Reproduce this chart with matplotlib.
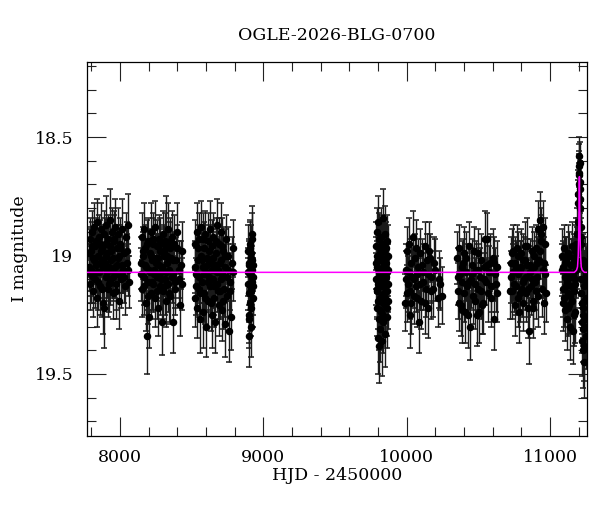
import numpy as np
import matplotlib
matplotlib.use('Agg')
import matplotlib.pyplot as plt
from matplotlib.ticker import MultipleLocator, FuncFormatter

# light curve, one block per observing season
# (HJD - 2450000, I mag, error)
s1_t = [7783, 7788, 7792, 7797, 7801, 7806, 7810, 7815, 7819, 7824, 7828, 7833, 7837, 7842, 7846,
        7851, 7855, 7860, 7864, 7869, 7873, 7878, 7882, 7887, 7891, 7896, 7900, 7905, 7909, 7914,
        7918, 7923, 7927, 7932, 7936, 7941, 7945, 7950, 7954, 7959, 7963, 7968, 7972, 7977, 7981,
        7986, 7990, 7995, 8000, 8006, 8012, 8019, 8026, 8034, 8042, 8050, 8058, 8062,
        7785, 7795, 7804, 7813, 7822, 7831, 7840, 7848, 7858, 7866, 7875, 7885, 7894, 7902, 7912,
        7920, 7930, 7939, 7948, 7957, 7966, 7975, 7984, 7993, 8003, 8016, 8030, 8046, 8055]
s1_m = [19.05, 18.93, 19.12, 18.98, 19.08, 18.90, 19.15, 19.01, 18.88, 19.10, 18.96, 19.04, 18.86, 19.18, 19.00,
        18.92, 19.07, 18.95, 19.13, 18.89, 19.02, 18.97, 19.20, 18.91, 19.22, 19.03, 18.87, 19.09, 18.99, 19.14,
        18.93, 19.05, 18.85, 19.11, 18.98, 19.06, 18.90, 19.16, 19.01, 18.94, 19.08, 18.88, 19.12, 18.97, 19.04,
        18.91, 19.19, 19.00, 18.95, 19.10, 18.89, 19.06, 18.99, 19.13, 18.92, 19.03, 18.87, 19.11,
        18.99, 19.06, 18.96, 19.09, 19.02, 18.94, 19.07, 19.11, 19.03, 18.98, 19.14, 19.05, 18.95, 19.00, 19.07,
        19.12, 18.96, 19.02, 19.09, 18.93, 19.05, 19.15, 19.01, 19.08, 18.97, 19.04, 19.09, 18.98, 19.06]
s1_e = [0.10, 0.09, 0.11, 0.10, 0.12, 0.09, 0.11, 0.10, 0.10, 0.12, 0.09, 0.11, 0.10, 0.12, 0.10,
        0.09, 0.11, 0.10, 0.12, 0.11, 0.10, 0.09, 0.13, 0.10, 0.17, 0.11, 0.12, 0.10, 0.11, 0.12,
        0.10, 0.11, 0.13, 0.10, 0.09, 0.12, 0.10, 0.11, 0.10, 0.11, 0.10, 0.12, 0.11, 0.10, 0.09,
        0.11, 0.12, 0.10, 0.11, 0.12, 0.13, 0.10, 0.11, 0.12, 0.10, 0.12, 0.13, 0.11,
        0.10, 0.11, 0.10, 0.11, 0.10, 0.10, 0.11, 0.12, 0.10, 0.11, 0.12, 0.10, 0.11, 0.10, 0.11,
        0.12, 0.10, 0.11, 0.10, 0.12, 0.11, 0.12, 0.10, 0.11, 0.10, 0.12, 0.11, 0.12, 0.11]

s2_t = [8148, 8152, 8157, 8161, 8166, 8170, 8175, 8179, 8183, 8188, 8192, 8197, 8201, 8206, 8210,
        8215, 8219, 8224, 8228, 8233, 8237, 8242, 8246, 8251, 8255, 8260, 8264, 8269, 8273, 8278,
        8282, 8287, 8293, 8297, 8302, 8306, 8311, 8315, 8320, 8324, 8329, 8333, 8338, 8342, 8347,
        8352, 8357, 8362, 8368, 8373, 8379, 8386, 8393, 8401, 8410, 8418, 8426, 8433,
        8150, 8159, 8168, 8177, 8186, 8195, 8204, 8213, 8222, 8231, 8240, 8249, 8258, 8267, 8276,
        8285, 8295, 8304, 8313, 8322, 8331, 8340, 8350, 8360, 8371, 8383, 8397, 8414, 8430]
s2_m = [19.03, 18.92, 19.14, 19.00, 18.89, 19.09, 18.97, 19.20, 19.05, 19.34, 18.94, 19.11, 19.26, 18.99, 19.07,
        18.90, 19.16, 19.02, 18.95, 19.12, 19.06, 18.88, 19.18, 19.01, 18.96, 19.09, 19.22, 18.93, 19.04, 19.13,
        18.98, 19.07, 19.28, 18.91, 19.15, 19.00, 19.10, 18.94, 18.96, 19.19, 19.03, 18.89, 19.12, 19.06, 18.97,
        19.17, 19.01, 18.92, 19.28, 19.08, 18.95, 19.14, 19.02, 18.90, 19.10, 19.21, 19.04, 18.98,
        19.08, 18.98, 19.13, 19.04, 18.95, 19.17, 19.06, 19.00, 19.11, 18.93, 19.08, 19.03, 19.15, 19.01, 18.95,
        19.10, 19.05, 18.98, 19.13, 19.07, 19.00, 19.16, 18.94, 19.09, 19.02, 19.11, 18.97, 19.06, 19.12]
s2_e = [0.11, 0.10, 0.12, 0.10, 0.11, 0.12, 0.10, 0.12, 0.11, 0.16, 0.10, 0.12, 0.13, 0.10, 0.11,
        0.12, 0.11, 0.10, 0.11, 0.12, 0.10, 0.11, 0.12, 0.10, 0.11, 0.10, 0.12, 0.10, 0.11, 0.12,
        0.10, 0.11, 0.14, 0.10, 0.12, 0.11, 0.10, 0.12, 0.21, 0.11, 0.10, 0.11, 0.12, 0.10, 0.11,
        0.12, 0.10, 0.11, 0.13, 0.10, 0.12, 0.11, 0.10, 0.12, 0.11, 0.13, 0.10, 0.12,
        0.11, 0.10, 0.12, 0.11, 0.10, 0.12, 0.11, 0.10, 0.12, 0.11, 0.10, 0.11, 0.12, 0.10, 0.11,
        0.12, 0.10, 0.11, 0.12, 0.10, 0.11, 0.12, 0.10, 0.11, 0.12, 0.11, 0.10, 0.12, 0.11]

s3_t = [8522, 8526, 8531, 8535, 8540, 8544, 8549, 8553, 8558, 8562, 8567, 8571, 8576, 8580, 8585,
        8589, 8594, 8598, 8603, 8607, 8612, 8616, 8621, 8625, 8630, 8634, 8639, 8643, 8648, 8652,
        8657, 8661, 8666, 8670, 8675, 8679, 8684, 8688, 8693, 8697, 8702, 8706, 8711, 8715, 8720,
        8725, 8730, 8736, 8742, 8748, 8754, 8760, 8767, 8774, 8781, 8789,
        8524, 8533, 8542, 8551, 8560, 8569, 8578, 8587, 8596, 8605, 8614, 8623, 8632, 8641, 8650,
        8659, 8668, 8677, 8686, 8695, 8704, 8713, 8722, 8733, 8745, 8757, 8770, 8785]
s3_m = [19.18, 18.95, 19.08, 18.90, 19.22, 19.02, 18.93, 19.14, 19.27, 19.00, 18.88, 19.11, 19.05, 19.24, 18.97,
        19.16, 18.91, 19.07, 19.30, 19.01, 18.94, 19.19, 19.09, 18.89, 19.13, 19.03, 19.25, 18.96, 19.10, 18.92,
        19.18, 19.04, 19.28, 18.99, 19.12, 18.87, 19.06, 19.21, 18.95, 19.15, 19.02, 18.90, 19.23, 19.08, 18.98,
        19.14, 19.29, 19.00, 18.93, 19.17, 19.06, 19.32, 19.11, 19.26, 19.03, 18.97,
        19.05, 19.13, 18.97, 19.09, 19.16, 19.02, 18.93, 19.08, 19.18, 19.04, 19.11, 18.98, 19.20, 19.06, 19.01,
        19.13, 18.94, 19.07, 19.15, 19.03, 19.10, 18.96, 19.19, 19.05, 19.09, 19.00, 19.15, 19.07]
s3_e = [0.12, 0.10, 0.11, 0.12, 0.13, 0.10, 0.11, 0.12, 0.14, 0.10, 0.11, 0.12, 0.10, 0.15, 0.11,
        0.12, 0.10, 0.11, 0.13, 0.10, 0.12, 0.11, 0.10, 0.12, 0.11, 0.10, 0.14, 0.11, 0.12, 0.10,
        0.12, 0.11, 0.13, 0.10, 0.12, 0.11, 0.10, 0.13, 0.11, 0.12, 0.10, 0.12, 0.13, 0.11, 0.10,
        0.12, 0.14, 0.11, 0.10, 0.12, 0.11, 0.13, 0.12, 0.14, 0.11, 0.12,
        0.11, 0.12, 0.10, 0.11, 0.12, 0.10, 0.11, 0.12, 0.11, 0.10, 0.12, 0.11, 0.12, 0.10, 0.11,
        0.12, 0.10, 0.11, 0.12, 0.10, 0.11, 0.12, 0.12, 0.11, 0.10, 0.12, 0.11, 0.12]

s4_t = [8893, 8895, 8897, 8899, 8901, 8902, 8904, 8906, 8907, 8909, 8911, 8912, 8914, 8916, 8917,
        8919, 8921, 8922, 8924, 8925, 8927, 8928,
        8894, 8898, 8903, 8908, 8913, 8918, 8923, 8926]
s4_m = [19.07, 18.98, 19.16, 19.25, 19.34, 19.03, 19.12, 18.95, 19.20, 19.08, 19.30, 19.01, 19.14, 18.99, 19.22,
        19.06, 18.93, 19.11, 18.91, 19.04, 19.18, 19.09,
        19.12, 19.04, 19.27, 18.97, 19.15, 19.09, 19.02, 19.13]
s4_e = [0.10, 0.11, 0.12, 0.12, 0.13, 0.10, 0.11, 0.10, 0.12, 0.11, 0.13, 0.10, 0.11, 0.12, 0.12,
        0.10, 0.11, 0.10, 0.12, 0.11, 0.12, 0.10,
        0.11, 0.10, 0.12, 0.11, 0.12, 0.10, 0.11, 0.12]

s5_t = [9786, 9788, 9790, 9792, 9794, 9796, 9798, 9800, 9802, 9804, 9806, 9808, 9810, 9812, 9814,
        9816, 9818, 9820, 9822, 9824, 9826, 9828, 9830, 9832, 9834, 9836, 9838, 9840, 9842, 9844,
        9846, 9848, 9850, 9852, 9854, 9856, 9858, 9860, 9862, 9864, 9866, 9868, 9870,
        9787, 9791, 9795, 9799, 9803, 9807, 9811, 9815, 9819, 9823, 9827, 9831, 9835, 9839, 9843,
        9847, 9851, 9855, 9859, 9863, 9867, 9869]
s5_m = [19.10, 18.96, 19.22, 19.05, 18.90, 19.14, 18.86, 19.35, 19.02, 19.27, 18.93, 19.38, 19.09, 19.18, 18.99,
        19.31, 19.06, 18.92, 19.24, 19.13, 19.36, 19.01, 18.95, 19.20, 18.84, 19.11, 19.28, 19.04, 18.98, 19.16,
        19.08, 19.33, 18.91, 19.21, 19.03, 19.12, 18.97, 19.26, 19.07, 19.15, 18.94, 19.19, 19.00,
        19.03, 19.15, 19.00, 19.12, 19.19, 19.07, 18.97, 19.23, 19.10, 19.02, 19.17, 19.08, 19.25, 18.95, 19.13,
        19.04, 19.18, 19.09, 19.01, 19.22, 19.06, 19.12]
s5_e = [0.11, 0.10, 0.12, 0.11, 0.10, 0.12, 0.11, 0.15, 0.10, 0.13, 0.11, 0.16, 0.12, 0.11, 0.10,
        0.14, 0.11, 0.12, 0.12, 0.10, 0.15, 0.11, 0.12, 0.11, 0.12, 0.10, 0.13, 0.11, 0.10, 0.12,
        0.11, 0.14, 0.12, 0.11, 0.10, 0.12, 0.11, 0.13, 0.10, 0.12, 0.11, 0.12, 0.13,
        0.11, 0.12, 0.10, 0.11, 0.12, 0.11, 0.10, 0.12, 0.11, 0.10, 0.12, 0.11, 0.13, 0.10, 0.12,
        0.11, 0.12, 0.10, 0.11, 0.12, 0.11, 0.12]

s6_t = [9990, 9996, 10002, 10008, 10014, 10020, 10024, 10030, 10036, 10043, 10048, 10055, 10062, 10068, 10075,
        10081, 10088, 10094, 10101, 10108, 10117, 10125, 10134, 10142, 10150, 10157, 10163, 10172, 10186, 10200,
        10221, 10236, 10246,
        9993, 10005, 10017, 10033, 10052, 10071, 10091, 10112, 10130, 10146, 10168, 10193, 10228]
s6_m = [19.20, 19.06, 18.98, 19.12, 18.95, 19.25, 19.15, 19.03, 19.09, 18.92, 19.17, 19.01, 19.13, 18.97, 19.08,
        19.05, 19.28, 18.99, 19.19, 19.04, 19.11, 18.96, 19.14, 19.02, 19.22, 18.98, 19.01, 19.09, 19.14, 19.06,
        19.18, 19.12, 19.17,
        19.10, 19.16, 19.07, 19.20, 19.10, 19.18, 19.12, 19.07, 19.20, 19.08, 19.15, 19.03, 19.10]
s6_e = [0.12, 0.11, 0.10, 0.12, 0.11, 0.14, 0.12, 0.10, 0.12, 0.11, 0.12, 0.10, 0.11, 0.12, 0.11,
        0.12, 0.13, 0.10, 0.12, 0.11, 0.12, 0.10, 0.12, 0.11, 0.13, 0.12, 0.10, 0.11, 0.12, 0.13,
        0.12, 0.11, 0.12,
        0.12, 0.12, 0.11, 0.13, 0.12, 0.12, 0.11, 0.12, 0.13, 0.11, 0.12, 0.11, 0.12]

s7_t = [10352, 10358, 10365, 10371, 10378, 10383, 10389, 10395, 10402, 10407, 10413, 10420, 10428, 10435, 10442,
        10448, 10455, 10462, 10469, 10476, 10482, 10489, 10495, 10500, 10507, 10514, 10520, 10529, 10535, 10542,
        10547, 10553, 10558, 10566, 10574, 10582, 10590, 10600, 10606, 10615, 10624, 10630,
        10355, 10368, 10386, 10399, 10417, 10438, 10458, 10479, 10498, 10517, 10538, 10562, 10586, 10611, 10627]
s7_m = [19.01, 19.15, 18.97, 19.08, 19.21, 19.11, 19.23, 19.03, 18.99, 19.24, 19.07, 19.13, 19.25, 18.96, 19.30,
        19.10, 19.04, 19.17, 18.98, 19.12, 19.06, 19.25, 19.14, 18.99, 19.24, 19.09, 19.02, 19.21, 19.20, 19.05,
        18.93, 19.11, 18.93, 19.16, 19.07, 19.03, 19.13, 19.01, 19.27, 19.08, 19.12, 19.05,
        19.09, 19.20, 19.05, 19.16, 19.01, 19.11, 19.08, 19.19, 19.06, 19.15, 19.10, 19.04, 19.18, 19.03, 19.16]
s7_e = [0.11, 0.12, 0.10, 0.11, 0.13, 0.12, 0.14, 0.10, 0.11, 0.13, 0.12, 0.11, 0.14, 0.10, 0.14,
        0.12, 0.11, 0.12, 0.10, 0.11, 0.12, 0.13, 0.11, 0.10, 0.13, 0.12, 0.11, 0.12, 0.13, 0.11,
        0.12, 0.10, 0.11, 0.12, 0.11, 0.12, 0.11, 0.12, 0.13, 0.11, 0.12, 0.11,
        0.12, 0.12, 0.11, 0.12, 0.11, 0.12, 0.11, 0.12, 0.11, 0.12, 0.11, 0.12, 0.12, 0.11, 0.12]

s8_t = [10722, 10728, 10733, 10738, 10744, 10750, 10756, 10762, 10768, 10774, 10780, 10786, 10791, 10797, 10803,
        10809, 10815, 10820, 10826, 10832, 10838, 10843, 10849, 10856, 10862, 10868, 10874, 10880, 10884, 10890,
        10896, 10902, 10908, 10914, 10919, 10925, 10931, 10936, 10942, 10949, 10955, 10961, 10967, 10972,
        10725, 10741, 10753, 10765, 10777, 10789, 10800, 10812, 10824, 10835, 10846, 10859, 10871, 10887, 10899,
        10911, 10928, 10939, 10952, 10964]
s8_m = [19.15, 19.03, 19.15, 18.99, 18.98, 19.12, 19.21, 19.05, 18.97, 19.18, 19.08, 19.24, 19.06, 18.99, 19.14,
        19.02, 19.20, 19.10, 18.96, 19.16, 19.04, 18.96, 19.22, 19.32, 19.07, 19.13, 18.98, 19.19, 19.22, 19.05,
        19.11, 18.97, 19.09, 19.17, 18.89, 19.02, 18.85, 18.94, 19.14, 18.88, 19.20, 19.03, 19.08, 19.16,
        19.09, 19.07, 19.03, 19.13, 19.00, 19.16, 19.05, 19.11, 19.02, 19.09, 19.14, 19.04, 19.10, 19.00, 19.15,
        19.03, 18.98, 18.91, 19.06, 18.95]
s8_e = [0.12, 0.11, 0.12, 0.10, 0.11, 0.12, 0.13, 0.11, 0.10, 0.12, 0.11, 0.13, 0.12, 0.10, 0.12,
        0.11, 0.12, 0.11, 0.10, 0.12, 0.11, 0.12, 0.13, 0.14, 0.11, 0.12, 0.10, 0.12, 0.13, 0.11,
        0.12, 0.10, 0.11, 0.13, 0.12, 0.11, 0.12, 0.11, 0.12, 0.11, 0.13, 0.11, 0.12, 0.12,
        0.11, 0.12, 0.11, 0.12, 0.10, 0.12, 0.11, 0.12, 0.10, 0.11, 0.12, 0.11, 0.12, 0.10, 0.12,
        0.11, 0.12, 0.11, 0.12, 0.11]

s9_t = [11084, 11088, 11092, 11096, 11100, 11104, 11108, 11112, 11116, 11120, 11124, 11128, 11132, 11136, 11140,
        11144, 11148, 11152, 11156, 11159, 11162, 11165, 11168, 11171, 11174, 11177, 11180, 11183, 11186, 11189,
        11192, 11195, 11197, 11199, 11201, 11203, 11205, 11207, 11209, 11211, 11213, 11215, 11217, 11219, 11221,
        11223, 11225, 11227, 11229, 11231, 11233, 11235, 11237, 11239, 11242, 11245, 11248, 11251, 11254,
        11086, 11094, 11102, 11110, 11118, 11126, 11134, 11142, 11150, 11158, 11166, 11173, 11179, 11188, 11198,
        11202, 11206, 11210, 11214, 11218, 11222, 11226, 11230, 11234, 11238, 11243, 11247, 11252, 11256]
s9_m = [19.06, 19.14, 19.05, 18.97, 19.18, 19.09, 19.23, 19.02, 19.27, 19.11, 18.99, 19.16, 19.07, 19.21, 19.30,
        19.04, 19.13, 18.96, 19.19, 19.32, 19.08, 19.15, 19.01, 19.24, 18.98, 19.10, 18.95, 19.06, 18.91, 19.02,
        18.86, 18.97, 18.78, 18.70, 18.62, 18.58, 18.66, 18.61, 18.72, 18.80, 18.88, 18.95, 19.05, 19.16, 19.28,
        19.10, 19.36, 19.22, 19.40, 19.02, 19.31, 19.13, 19.45, 19.19, 19.06, 19.26, 19.12, 19.34, 19.08,
        19.00, 19.20, 19.03, 19.13, 19.07, 19.22, 19.00, 19.17, 19.09, 19.03, 19.25, 19.12, 19.04, 18.99, 18.74,
        18.65, 18.69, 18.76, 18.92, 19.10, 19.20, 19.05, 19.25, 19.38, 19.10, 19.30, 19.03, 19.18, 19.27]
s9_e = [0.11, 0.12, 0.11, 0.10, 0.12, 0.11, 0.13, 0.10, 0.13, 0.11, 0.12, 0.12, 0.11, 0.12, 0.14,
        0.11, 0.12, 0.10, 0.12, 0.14, 0.11, 0.12, 0.10, 0.13, 0.11, 0.12, 0.11, 0.12, 0.11, 0.12,
        0.11, 0.12, 0.10, 0.09, 0.09, 0.08, 0.09, 0.09, 0.10, 0.10, 0.11, 0.11, 0.12, 0.12, 0.13,
        0.12, 0.15, 0.13, 0.16, 0.11, 0.14, 0.12, 0.15, 0.12, 0.11, 0.13, 0.12, 0.14, 0.12,
        0.11, 0.12, 0.11, 0.12, 0.11, 0.12, 0.10, 0.12, 0.11, 0.10, 0.13, 0.11, 0.12, 0.11, 0.10,
        0.09, 0.09, 0.10, 0.11, 0.12, 0.13, 0.11, 0.13, 0.15, 0.12, 0.14, 0.11, 0.12, 0.13]

# model curve (flat baseline with the narrow peak near 11205)
model_t = [7700, 11170, 11185, 11192, 11197, 11200, 11203, 11205, 11207, 11210, 11213, 11218, 11225, 11240, 11300]
model_m = [19.071, 19.071, 19.062, 19.048, 19.0, 18.92, 18.78, 18.667, 18.78, 18.92, 19.0, 19.048, 19.062, 19.071, 19.071]

title = 'OGLE-2026-BLG-0700'

plt.rcParams['font.family'] = 'DejaVu Serif'

fig = plt.figure(figsize=(6, 5.12), dpi=100)
ax = fig.add_axes([0.1455, 0.1484, 0.8328, 0.7305])

seasons = [(s1_t, s1_m, s1_e), (s2_t, s2_m, s2_e), (s3_t, s3_m, s3_e), (s4_t, s4_m, s4_e),
           (s5_t, s5_m, s5_e), (s6_t, s6_m, s6_e), (s7_t, s7_m, s7_e), (s8_t, s8_m, s8_e),
           (s9_t, s9_m, s9_e)]
for t, m, e in seasons:
    ax.errorbar(t, m, yerr=e, fmt='o', color='black', ms=4.4, elinewidth=1.0,
                ecolor='#1a1a1a', capsize=2.3, capthick=1.1, zorder=2)

ax.plot(model_t, model_m, color='#ff00ff', lw=1.1, zorder=3)

ax.set_xlim(7772, 11258)
ax.set_ylim(19.762, 18.183)

ax.xaxis.set_major_locator(MultipleLocator(1000))
ax.xaxis.set_minor_locator(MultipleLocator(200))
ax.yaxis.set_major_locator(MultipleLocator(0.5))
ax.yaxis.set_minor_locator(MultipleLocator(0.1))
ax.yaxis.set_major_formatter(FuncFormatter(lambda v, p: '%g' % v))

ax.tick_params(which='both', direction='in', top=True, right=True, color='#222222')
ax.tick_params(which='major', length=13.5, width=0.8, labelsize=12.5)
ax.tick_params(which='minor', length=6.5, width=0.8)
ax.tick_params(axis='x', which='major', pad=9)
ax.tick_params(axis='y', which='major', pad=10)
for sp in ax.spines.values():
    sp.set_linewidth(0.9)

ax.set_title(title, fontsize=12.5, pad=16)
ax.set_xlabel('HJD - 2450000', fontsize=12.5, labelpad=1)
ax.set_ylabel('I magnitude', fontsize=12.5, labelpad=5)

fig.savefig('out.png', dpi=100)
